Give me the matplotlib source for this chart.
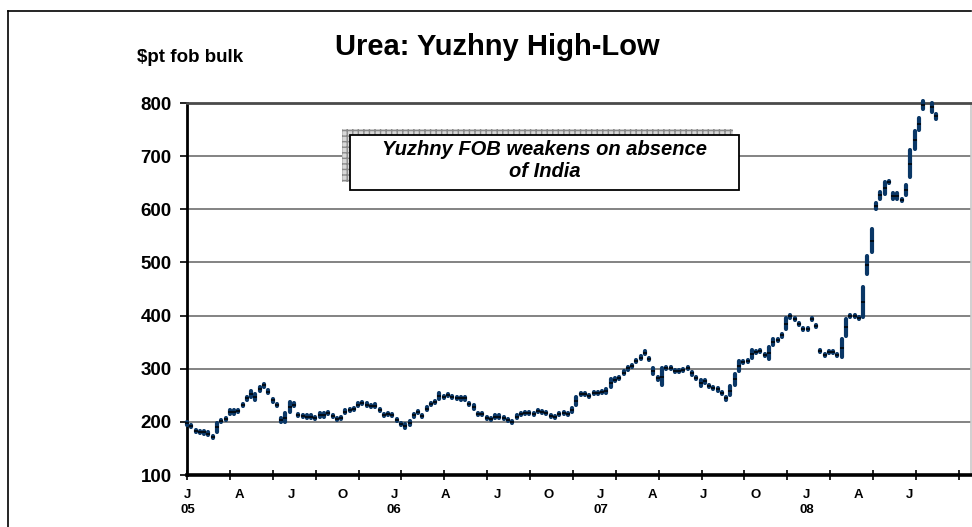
import numpy as np
import matplotlib
matplotlib.use("Agg")
import matplotlib.pyplot as plt
from matplotlib.patches import Rectangle
from matplotlib.lines import Line2D

plt.rcParams['font.family'] = ['Liberation Sans', 'DejaVu Sans']

# weekly high-low, Jan 2005 onwards (one missing week near the end)
week = list(range(173)) + [174, 175]
low = [195, 190, 181, 179, 178, 176, 170, 181, 199, 203,
       215, 215, 218, 230, 242, 246, 242, 258, 266, 254,
       238, 230, 199, 199, 219, 229, 211, 209, 208, 208,
       205, 210, 210, 215, 209, 204, 205, 216, 221, 222,
       229, 233, 229, 228, 228, 220, 211, 212, 211, 201,
       194, 188, 195, 210, 216, 209, 222, 231, 236, 243,
       244, 248, 245, 243, 242, 242, 232, 225, 212, 212,
       205, 204, 208, 208, 205, 201, 197, 208, 213, 215,
       215, 212, 219, 217, 215, 209, 207, 212, 214, 212,
       218, 232, 250, 250, 246, 252, 253, 254, 255, 265,
       277, 280, 290, 298, 303, 313, 319, 328, 316, 290,
       279, 269, 299, 299, 294, 294, 296, 299, 289, 281,
       268, 274, 266, 261, 259, 252, 242, 250, 270, 295,
       311, 313, 320, 330, 332, 324, 318, 345, 352, 360,
       375, 396, 392, 382, 373, 373, 392, 378, 332, 323,
       329, 329, 324, 322, 362, 398, 398, 393, 397, 478,
       519, 600, 620, 629, 649, 620, 620, 616, 626, 660,
       714, 749, 789, 784, 770]
high = [200, 194, 185, 183, 182, 180, 174, 198, 204, 208,
        222, 222, 222, 234, 246, 259, 253, 266, 271, 260,
        243, 234, 207, 216, 238, 235, 215, 213, 212, 212,
        209, 216, 216, 219, 213, 208, 209, 222, 225, 226,
        236, 238, 235, 232, 233, 224, 215, 216, 215, 205,
        198, 196, 202, 214, 220, 213, 228, 235, 240, 255,
        248, 252, 249, 247, 246, 246, 236, 232, 216, 216,
        209, 208, 212, 212, 209, 205, 201, 212, 217, 219,
        219, 216, 223, 221, 219, 213, 211, 216, 218, 216,
        226, 247, 254, 254, 250, 256, 257, 258, 262, 280,
        282, 285, 295, 303, 307, 317, 323, 333, 320, 302,
        285, 301, 303, 303, 298, 298, 300, 303, 293, 285,
        278, 278, 270, 265, 263, 256, 246, 268, 290, 315,
        315, 317, 335, 334, 336, 328, 340, 355, 356, 366,
        395, 402, 396, 386, 377, 377, 396, 382, 336, 327,
        333, 333, 328, 356, 394, 402, 402, 397, 453, 513,
        563, 612, 632, 651, 653, 630, 630, 620, 645, 712,
        747, 772, 804, 800, 780]

qtr_letters = ['J', 'A', 'J', 'O', 'J', 'A', 'J', 'O',
               'J', 'A', 'J', 'O', 'J', 'A', 'J']
year_labels = {0: '05', 4: '06', 8: '07', 12: '08'}
y_ticks = [100, 200, 300, 400, 500, 600, 700, 800]

mid = (np.array(low) + np.array(high)) / 2.0
qtr_pos = 0.23 + 12.05 * np.arange(len(qtr_letters))
tick_pos = 10.02 * np.arange(19)
qtr_text = [l + ('\n' + year_labels[i] if i in year_labels else '')
            for i, l in enumerate(qtr_letters)]

fig = plt.figure(figsize=(9.72, 5.27), dpi=100)
ax = fig.add_axes([187 / 972, 1 - 475 / 527, 784 / 972, 372 / 527])

ax.vlines(week, low, high, colors='#0a3766', linewidth=3.0,
          capstyle='round', clip_on=False, zorder=3)
ax.plot(week, mid, ls='none', marker='_', ms=2.5, mew=1.1,
        color='black', zorder=4, clip_on=False)

ax.set_xlim(0, 183.2)
ax.set_ylim(100, 800)
ax.set_yticks(y_ticks)
ax.set_yticklabels([str(v) for v in y_ticks], fontsize=13.5, fontweight='bold')
ax.tick_params(axis='y', direction='out', length=5, width=1.2, pad=6)

ax.set_xticks(qtr_pos)
ax.set_xticklabels(qtr_text, fontsize=9.5, fontweight='bold', linespacing=1.3)
ax.tick_params(axis='x', which='major', length=0, pad=10)
ax.set_xticks(tick_pos, minor=True)
ax.tick_params(axis='x', which='minor', direction='inout', length=6.5, width=1.2)

ax.yaxis.grid(True, color='#6e6e6e', linewidth=1.2)
ax.set_axisbelow(True)
ax.spines['left'].set_linewidth(2)
ax.spines['bottom'].set_linewidth(2.6)
ax.spines['top'].set_color('#4a4a4a')
ax.spines['top'].set_linewidth(2)
ax.spines['right'].set_color('#c8c8c8')
ax.spines['right'].set_linewidth(1.2)

fig.text(497 / 972, 1 - 47 / 527, 'Urea: Yuzhny High-Low', ha='center', va='center',
         fontsize=21, fontweight='bold')
fig.text(137 / 972, 1 - 57 / 527, '\\$pt fob bulk', ha='left', va='center',
         fontsize=13.5, fontweight='bold')

# annotation box with patterned shadow
fig.add_artist(Rectangle((342 / 972, 1 - 182 / 527), 391 / 972, 53 / 527,
                         transform=fig.transFigure, facecolor='#d8d8d8',
                         edgecolor='#8a8a8a', hatch='+++', linewidth=0, zorder=5))
fig.add_artist(Rectangle((350 / 972, 1 - 190 / 527), 389 / 972, 55 / 527,
                         transform=fig.transFigure, facecolor='white',
                         edgecolor='black', linewidth=1.3, zorder=6))
fig.text(545 / 972, 1 - 161 / 527, 'Yuzhny FOB weakens on absence\nof India',
         ha='center', va='center', fontsize=14.5, fontweight='bold',
         style='italic', zorder=7)

# outer frame
fig.add_artist(Line2D([8 / 972, 971 / 972], [1 - 11 / 527, 1 - 11 / 527],
                      transform=fig.transFigure, color='black', linewidth=1.2))
fig.add_artist(Line2D([8 / 972, 8 / 972], [0, 1 - 11 / 527],
                      transform=fig.transFigure, color='black', linewidth=1.2))

fig.savefig('out.png', dpi=100)
